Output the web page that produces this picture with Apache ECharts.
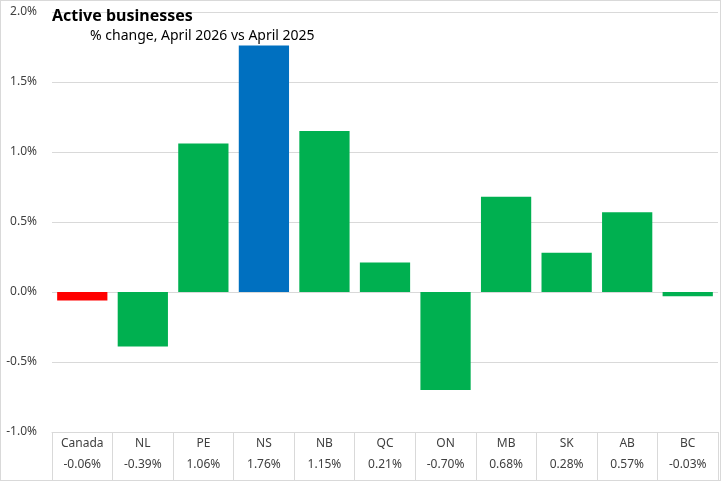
<!DOCTYPE html>
<html>
<head>
<meta charset="utf-8">
<script src="https://cdn.jsdelivr.net/npm/echarts@6/dist/echarts.min.js"></script>
<style>
  html, body { margin: 0; padding: 0; background: #fff; }
  #chart { width: 721px; height: 481px; box-sizing: border-box; border: 1px solid #d9d9d9; }
</style>
</head>
<body>
<div id="chart"></div>
<script>
// provinces and the national figure
const categories = ['Canada', 'NL', 'PE', 'NS', 'NB', 'QC', 'ON', 'MB', 'SK', 'AB', 'BC'];
// % change, April 2026 vs April 2025
const changes = [-0.06, -0.39, 1.06, 1.76, 1.15, 0.21, -0.70, 0.68, 0.28, 0.57, -0.03];
const yTicks = [-1.0, -0.5, 0.0, 0.5, 1.0, 1.5, 2.0];

const barColor = (name) => {
  if (name === 'Canada') return '#ff0000';
  if (name === 'NS') return '#0070c0';
  return '#00b050';
};

const font = 'Noto Sans';
const chart = echarts.init(document.getElementById('chart'));

chart.setOption({
  animation: false,
  title: [
    {
      text: 'Active businesses',
      left: 51, top: 7, padding: 0,
      textStyle: { fontFamily: font, fontSize: 16, fontWeight: 'bold', color: '#000' }
    },
    {
      text: '% change, April 2026 vs April 2025',
      left: 89, top: 28, padding: 0,
      textStyle: { fontFamily: font, fontSize: 14, fontWeight: 'normal', color: '#000' }
    }
  ],
  grid: { left: 51, right: 2, top: 11, bottom: 48 },
  xAxis: {
    type: 'category',
    data: categories,
    axisLine: { onZero: false, lineStyle: { color: '#d9d9d9' } },
    axisTick: { show: true, interval: 0, length: 48, lineStyle: { color: '#d9d9d9' } },
    axisLabel: {
      interval: 0,
      margin: 1,
      formatter: (v, i) => '{a|' + v + '}\n{a|' + changes[i].toFixed(2) + '%}',
      rich: {
        a: { fontFamily: font, fontSize: 12, color: '#404040', lineHeight: 21 }
      }
    }
  },
  yAxis: {
    type: 'value',
    min: yTicks[0],
    max: yTicks[yTicks.length - 1],
    interval: 0.5,
    axisLine: { show: false },
    axisTick: { show: false },
    splitLine: { lineStyle: { color: '#d9d9d9' } },
    axisLabel: {
      margin: 15,
      fontFamily: font, fontSize: 12, color: '#404040',
      formatter: (v) => v.toFixed(1) + '%'
    }
  },
  series: [{
    type: 'bar',
    barCategoryGap: '17%',
    data: changes.map((v, i) => ({ value: v, itemStyle: { color: barColor(categories[i]) } }))
  }]
});
</script>
</body>
</html>
